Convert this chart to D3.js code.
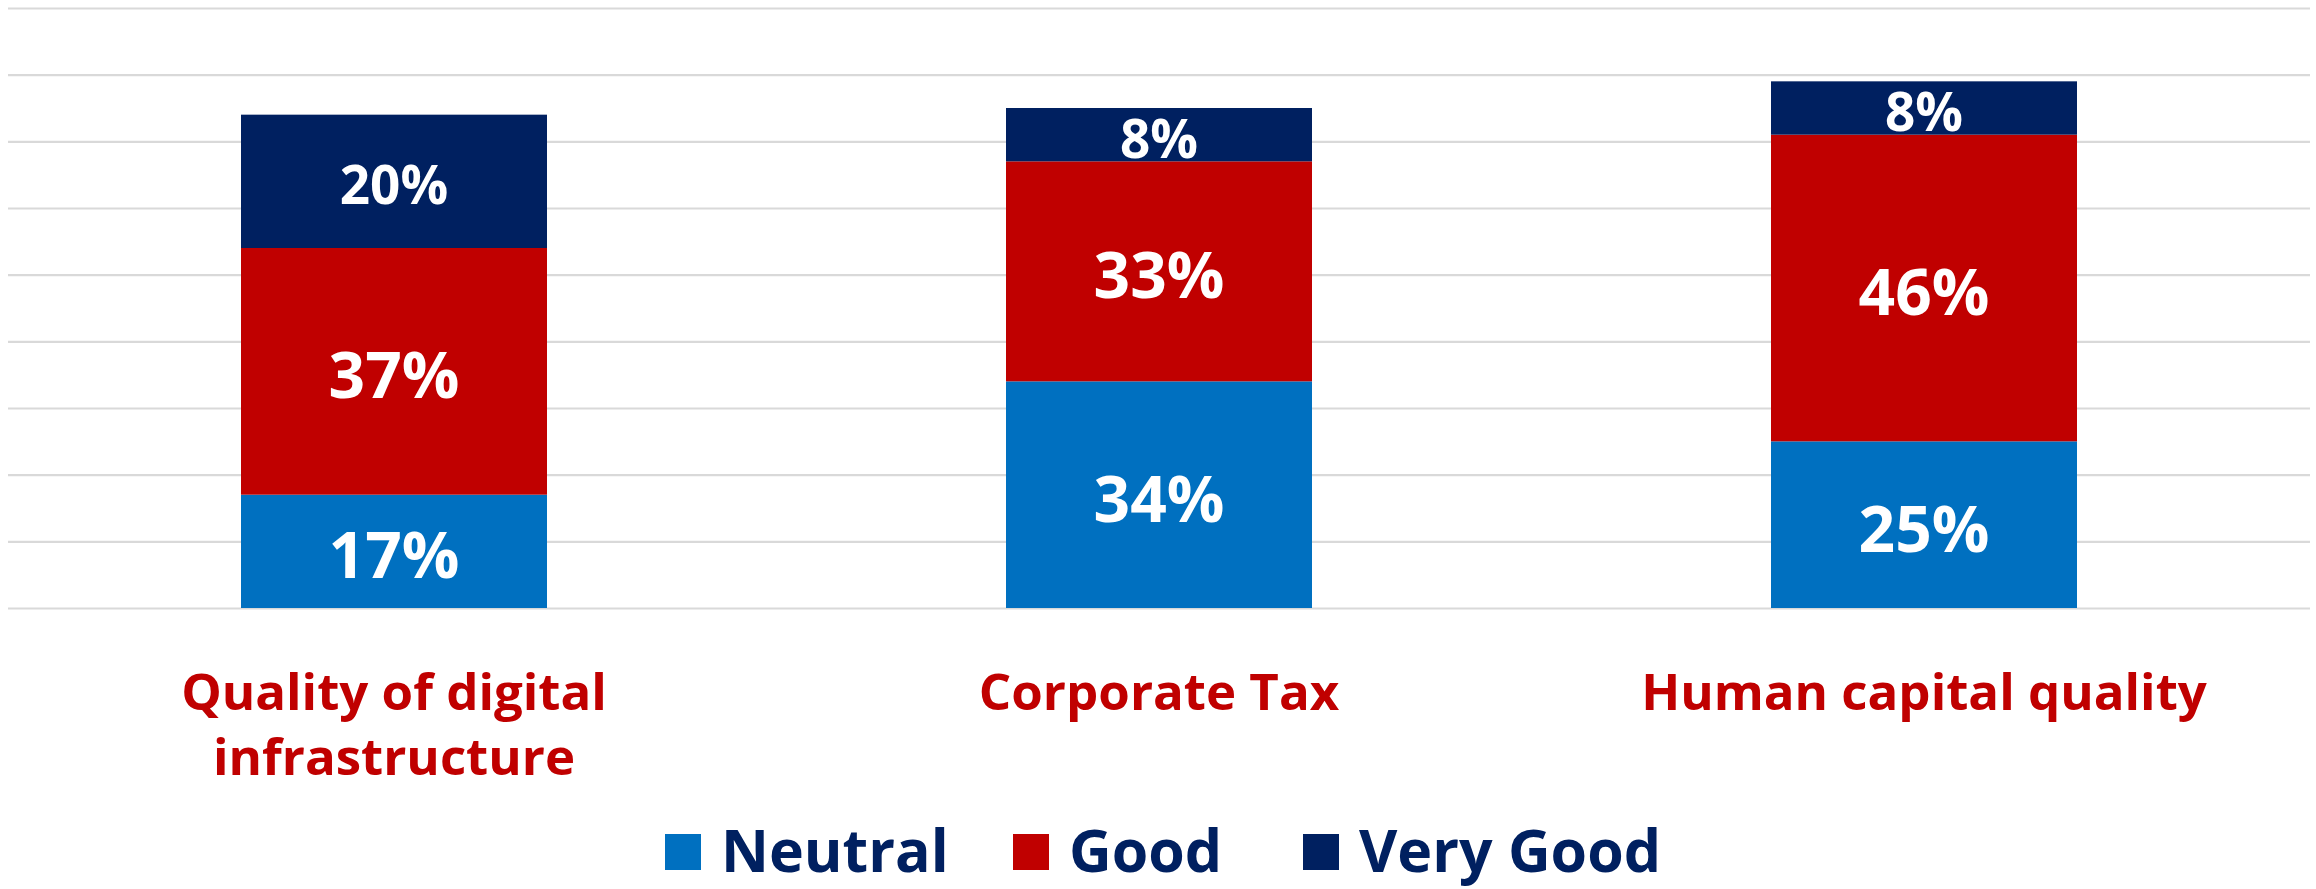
<!DOCTYPE html>
<html>
<head>
<meta charset="utf-8">
<script src="https://cdn.jsdelivr.net/npm/d3@7"></script>
<style>
  html, body { margin: 0; padding: 0; background: #ffffff; }
  svg { display: block; font-family: "Open Sans", "Noto Sans", sans-serif; }
</style>
</head>
<body>
<svg id="chart" width="2316" height="889"></svg>
<script>
// Survey shares per factor, stacked Neutral / Good / Very Good
const categories = ["Quality of digital infrastructure", "Corporate Tax", "Human capital quality"];
const categoryLines = [["Quality of digital", "infrastructure"], ["Corporate Tax"], ["Human capital quality"]];
const seriesNames = ["Neutral", "Good", "Very Good"];
const neutral = [17, 34, 25];
const good = [37, 33, 46];
const veryGood = [20, 8, 8];
const gridValues = [0, 10, 20, 30, 40, 50, 60, 70, 80, 90];

const colors = { "Neutral": "#0070C0", "Good": "#C00000", "Very Good": "#002060" };
const labelSize = { "Neutral": 64, "Good": 64, "Very Good": 53 };

const svg = d3.select("#chart");
const plotLeft = 8, plotRight = 2310;
const plotTop = 8, plotBottom = 608;

const rows = categories.map((c, i) => ({
  category: c,
  "Neutral": neutral[i],
  "Good": good[i],
  "Very Good": veryGood[i]
}));

const x = d3.scaleBand()
  .domain(categories)
  .range([11.5, 2306.5])
  .paddingInner(0.6)
  .paddingOuter(0.3);

const y = d3.scaleLinear()
  .domain([0, 90])
  .range([plotBottom, plotTop]);

// horizontal gridlines
const grid = svg.append("g")
  .attr("transform", `translate(${plotLeft},0)`)
  .call(d3.axisLeft(y)
    .tickValues(gridValues)
    .tickSize(-(plotRight - plotLeft))
    .tickFormat(""));
grid.select(".domain").remove();
grid.selectAll(".tick line")
  .attr("stroke", "#d9d9d9")
  .attr("stroke-width", 2.2);

// stacked bars
const stack = d3.stack().keys(seriesNames);
const layers = stack(rows);

const layerG = svg.append("g")
  .selectAll("g")
  .data(layers)
  .join("g")
  .attr("fill", d => colors[d.key]);

layerG.selectAll("rect")
  .data(d => d.map(p => ({ key: d.key, p })))
  .join("rect")
  .attr("x", d => x(d.p.data.category))
  .attr("width", x.bandwidth())
  .attr("y", d => y(d.p[1]))
  .attr("height", d => y(d.p[0]) - y(d.p[1]));

// value labels
layerG.selectAll("text")
  .data(d => d.map(p => ({ key: d.key, p })))
  .join("text")
  .attr("x", d => x(d.p.data.category) + x.bandwidth() / 2)
  .attr("y", d => (y(d.p[0]) + y(d.p[1])) / 2 + 0.357 * labelSize[d.key] + 4)
  .attr("text-anchor", "middle")
  .attr("fill", "#ffffff")
  .attr("font-weight", 700)
  .attr("font-size", d => labelSize[d.key])
  .text(d => `${d.p.data[d.key]}%`);

// category labels
const catG = svg.append("g")
  .selectAll("text")
  .data(categories)
  .join("text")
  .attr("x", d => x(d) + x.bandwidth() / 2)
  .attr("y", 710)
  .attr("text-anchor", "middle")
  .attr("fill", "#C00000")
  .attr("font-weight", 700)
  .attr("font-size", 51);

catG.selectAll("tspan")
  .data((d, i) => categoryLines[i])
  .join("tspan")
  .attr("x", function () { return d3.select(this.parentNode).attr("x"); })
  .attr("dy", (d, i) => i === 0 ? 0 : 65)
  .text(d => d);

// legend
const legendX = [665, 1013, 1303];
const legend = svg.append("g")
  .selectAll("g")
  .data(seriesNames)
  .join("g")
  .attr("transform", (d, i) => `translate(${legendX[i]},0)`);

legend.append("rect")
  .attr("x", 0)
  .attr("y", 834)
  .attr("width", 36)
  .attr("height", 36)
  .attr("fill", d => colors[d]);

legend.append("text")
  .attr("x", 56)
  .attr("y", 872)
  .attr("fill", "#002060")
  .attr("font-weight", 700)
  .attr("font-size", 59)
  .text(d => d);
</script>
</body>
</html>
